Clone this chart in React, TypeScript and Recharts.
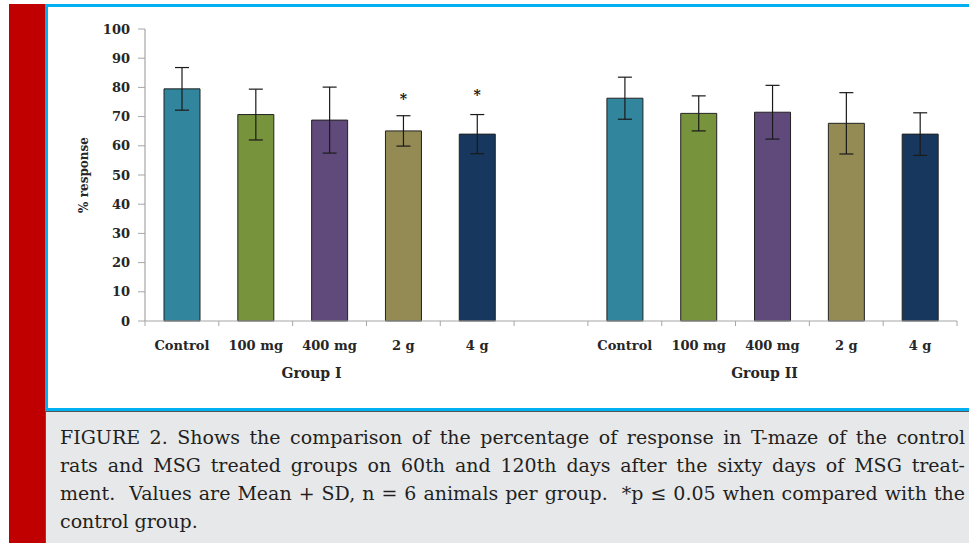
import { ComposedChart, Bar, Cell, ErrorBar, Line, XAxis, YAxis } from 'recharts';

const categories = ['Control', '100 mg', '400 mg', '2 g', '4 g', '', 'Control', '100 mg', '400 mg', '2 g', '4 g'];
const meanResponse = [79.5, 70.7, 68.8, 65.1, 64.0, null, 76.3, 71.1, 71.5, 67.7, 64.0];
const sdResponse = [7.3, 8.7, 11.3, 5.2, 6.7, null, 7.2, 6.0, 9.2, 10.5, 7.3];
// height of the "*" marks (p <= 0.05)
const significance = [null, null, null, 77.1, 78.4, null, null, null, null, null, null];
const doseColors = ['#31859c', '#77933c', '#604a7b', '#948a54', '#17375e'];
const groupLabels = [
  { at: 2, label: 'Group I', dx: -18 },
  { at: 8, label: 'Group II', dx: -8 },
];
const yTicks = [0, 10, 20, 30, 40, 50, 60, 70, 80, 90, 100];

const captionLines = [
  'FIGURE 2. Shows the comparison of the percentage of response in T-maze of the control',
  'rats and MSG treated groups on 60th and 120th days after the sixty days of MSG treat-',
  'ment.\u00a0 Values are Mean + SD, n = 6 animals per group.\u00a0 *p \u2264 0.05 when compared with the',
  'control group.',
];

const data = categories.map((name, i) => ({
  id: i,
  name,
  mean: meanResponse[i],
  sd: sdResponse[i],
  star: significance[i],
}));

const FONT = '"DejaVu Serif", serif';
const AXIS = '#a6a6a6';
const TEXT = '#262626';

const CategoryTick = (props: any) => {
  const { x, y, payload, index, visibleTicksCount } = props;
  const half = payload.offset ?? 36.9;
  const i = payload.value;
  const group = groupLabels.find((g) => g.at === i);
  const last = index === (visibleTicksCount ?? categories.length) - 1;
  return (
    <g>
      <line x1={x - half} x2={x - half} y1={y} y2={y + 5} stroke={AXIS} />
      {last && <line x1={x + half} x2={x + half} y1={y} y2={y + 5} stroke={AXIS} />}
      <text x={x} y={y + 29} textAnchor="middle" fontFamily={FONT} fontWeight="bold" fontSize={13} fill={TEXT}>
        {categories[i]}
      </text>
      {group && (
        <text x={x + group.dx} y={y + 57} textAnchor="middle" fontFamily={FONT} fontWeight="bold" fontSize={14} fill={TEXT}>
          {group.label}
        </text>
      )}
    </g>
  );
};

const renderStar = (props: any) => {
  const { cx, cy, index, value } = props;
  if (value == null || cy == null) return <g key={index} />;
  return (
    <text key={index} x={cx} y={cy + 8} textAnchor="middle" fontFamily={FONT} fontWeight="bold" fontSize={14} fill="#111">
      *
    </text>
  );
};

const YLabel = ({ viewBox }: any) => {
  const cx = viewBox.x + 13;
  const cy = viewBox.y + viewBox.height / 2;
  return (
    <text
      x={cx}
      y={cy}
      transform={`rotate(-90, ${cx}, ${cy})`}
      textAnchor="middle"
      dominantBaseline="central"
      fontFamily={FONT}
      fontWeight="bold"
      fontSize={12}
      fill={TEXT}
    >
      % response
    </text>
  );
};

export default function App() {
  return (
    <div style={{ position: 'absolute', left: 0, top: 0, width: 969, height: 543, overflow: 'hidden', background: '#fff' }}>
      {/* red strip on the left */}
      <div style={{ position: 'absolute', left: 9, top: 4, width: 36, height: 539, background: '#c00000' }} />
      {/* blue framed chart box */}
      <div
        style={{
          position: 'absolute',
          left: 45,
          top: 4,
          width: 940,
          height: 401,
          border: '3px solid #00b0f0',
          background: '#fff',
        }}
      />
      <div style={{ position: 'absolute', left: 0, top: 0 }}>
        <ComposedChart width={969} height={410} data={data} margin={{ top: 29, right: 12, bottom: 9, left: 71 }}>
          <XAxis
            dataKey="id"
            type="category"
            height={80}
            interval={0}
            tickSize={0}
            tickMargin={0}
            tickLine={false}
            axisLine={{ stroke: AXIS, strokeWidth: 1.2 }}
            tick={<CategoryTick />}
          />
          <YAxis
            width={74}
            domain={[0, 100]}
            ticks={yTicks}
            interval={0}
            tickSize={7}
            tickMargin={8}
            axisLine={{ stroke: AXIS, strokeWidth: 1.2 }}
            tickLine={{ stroke: AXIS }}
            tick={{ fontFamily: FONT, fontWeight: 'bold', fontSize: 13, fill: TEXT }}
            label={<YLabel />}
          />
          <Bar dataKey="mean" barSize={36} isAnimationActive={false}>
            {data.map((d, i) => (
              <Cell key={i} fill={doseColors[i < 5 ? i : (i - 6 + 5) % 5]} stroke="#222" strokeWidth={1} />
            ))}
            <ErrorBar dataKey="sd" width={7} stroke="#1a1a1a" strokeWidth={1.2} isAnimationActive={false} />
          </Bar>
          <Line dataKey="star" stroke="none" dot={renderStar} activeDot={false} isAnimationActive={false} />
        </ComposedChart>
      </div>
      {/* caption box */}
      <div
        style={{
          position: 'absolute',
          left: 45,
          top: 411,
          width: 940,
          height: 140,
          background: '#e7e8ea',
          borderTop: '1px solid #555',
          borderLeft: '1px solid #555',
          boxSizing: 'border-box',
          paddingTop: 11,
          paddingLeft: 14,
        }}
      >
        {captionLines.map((line, i) => (
          <div
            key={i}
            style={{
              width: 905,
              height: 28,
              lineHeight: '28px',
              fontFamily: FONT,
              fontSize: 19,
              color: '#231f20',
              whiteSpace: 'nowrap',
              textAlign: i < captionLines.length - 1 ? 'justify' : 'left',
              textAlignLast: i < captionLines.length - 1 ? 'justify' : 'left',
            }}
          >
            {line}
          </div>
        ))}
      </div>
    </div>
  );
}
